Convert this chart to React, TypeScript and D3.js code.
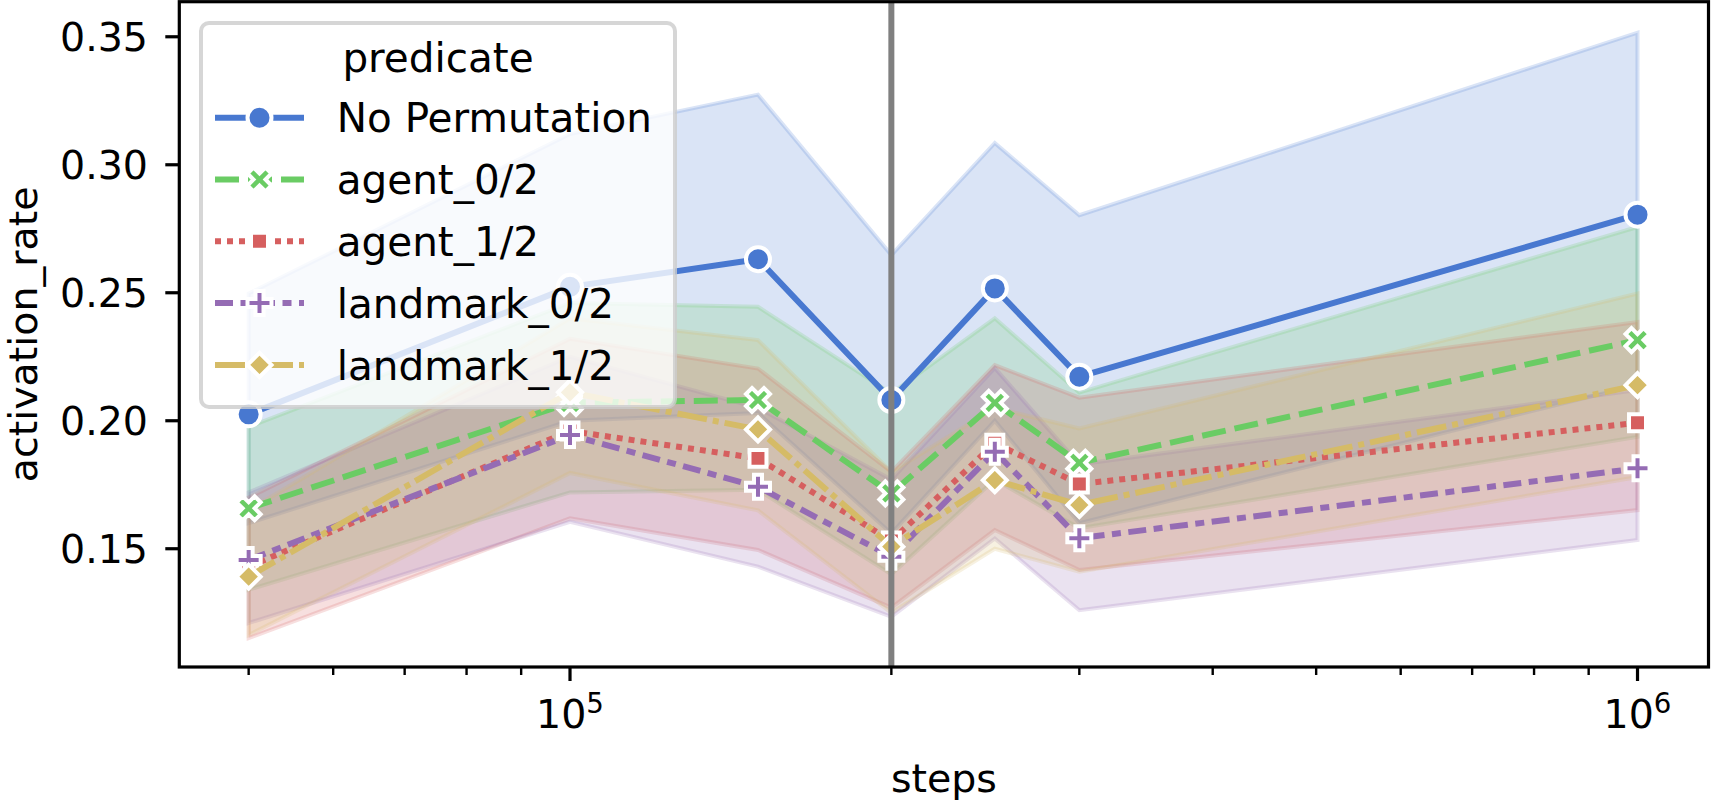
import * as d3 from 'd3';
import React from 'react';

// training steps sampled for every predicate
const steps = [50000, 100000, 150000, 200000, 250000, 300000, 1000000];

const predicates = ['No Permutation', 'agent_0/2', 'agent_1/2', 'landmark_0/2', 'landmark_1/2'];

// mean activation rate and confidence band per predicate
const noPermMean = [0.2025, 0.2523, 0.2631, 0.2081, 0.2517, 0.2172, 0.2805];
const noPermLow = [0.160, 0.200, 0.203, 0.156, 0.200, 0.160, 0.214];
const noPermHigh = [0.2497, 0.312, 0.3274, 0.2647, 0.3085, 0.2803, 0.3516];

const agent0Mean = [0.1658, 0.207, 0.2081, 0.1716, 0.207, 0.1836, 0.2315];
const agent0Low = [0.134, 0.172, 0.173, 0.140, 0.177, 0.158, 0.1937];
const agent0High = [0.1976, 0.246, 0.2445, 0.2107, 0.240, 0.211, 0.2757];

const agent1Mean = [0.143, 0.196, 0.1853, 0.153, 0.1912, 0.1753, 0.1992];
const agent1Low = [0.1151, 0.1619, 0.1495, 0.127, 0.1573, 0.1417, 0.1651];
const agent1High = [0.170, 0.232, 0.2204, 0.180, 0.2217, 0.209, 0.2386];

const landmark0Mean = [0.1456, 0.1944, 0.1742, 0.1469, 0.1879, 0.1541, 0.1814];
const landmark0Low = [0.121, 0.1605, 0.143, 0.1234, 0.154, 0.126, 0.1534];
const landmark0High = [0.172, 0.225, 0.205, 0.177, 0.2206, 0.183, 0.212];

const landmark1Mean = [0.1391, 0.2111, 0.1966, 0.1508, 0.1768, 0.1671, 0.2139];
const landmark1Low = [0.1163, 0.1796, 0.165, 0.125, 0.150, 0.141, 0.178];
const landmark1High = [0.165, 0.240, 0.2315, 0.180, 0.205, 0.197, 0.2497];

const yTicks = [0.15, 0.2, 0.25, 0.3, 0.35];
const markerStep = 200000;

const colors = ['#4878d0', '#6acc64', '#d65f5f', '#956cb4', '#d5bb67'];
const dashes = ['', '24 9', '6 6', '18 7.5 9 7.5', '30 6 6 6'];
const markers = ['circle', 'x', 'square', 'plus', 'diamond'];

const W = 1712, H = 801;
const left = 179.3, right = 1708.5, top = 1.7, bottom = 667;
const font = "'DejaVu Sans', sans-serif";
const fs = 39.5;
const legendFs = 40.5;

const x = d3.scaleLog().domain([10 ** 4.634, 10 ** 6.0665]).range([left, right]);
const y = d3.scaleLinear().domain([0.1038, 0.3637]).range([bottom, top]);

const series = [
  { mean: noPermMean, low: noPermLow, high: noPermHigh },
  { mean: agent0Mean, low: agent0Low, high: agent0High },
  { mean: agent1Mean, low: agent1Low, high: agent1High },
  { mean: landmark0Mean, low: landmark0Low, high: landmark0High },
  { mean: landmark1Mean, low: landmark1Low, high: landmark1High },
].map((s, i) => ({ ...s, name: predicates[i], color: colors[i], dash: dashes[i], marker: markers[i] }));

const poly = (pts: number[][], k: number) =>
  'M' + pts.map(p => `${p[0] * k},${p[1] * k}`).join('L') + 'Z';

function Marker({ kind, cx, cy, color }: { kind: string; cx: number; cy: number; color: string }) {
  const s = 24, h = s / 2;
  const common = { fill: color, stroke: '#fff', strokeWidth: 4, strokeLinejoin: 'miter' as const };
  if (kind === 'circle') return <circle cx={cx} cy={cy} r={h} {...common} />;
  let d = '';
  if (kind === 'x') {
    d = poly([[-1, -2], [0, -1], [1, -2], [2, -1], [1, 0], [2, 1], [1, 2], [0, 1], [-1, 2], [-2, 1], [-1, 0], [-2, -1]], s / 4);
  } else if (kind === 'plus') {
    d = poly([[-1, -3], [1, -3], [1, -1], [3, -1], [3, 1], [1, 1], [1, 3], [-1, 3], [-1, 1], [-3, 1], [-3, -1], [-1, -1]], s / 6);
  } else if (kind === 'square') {
    const a = s / Math.SQRT2 / 2;
    d = poly([[-a, -a], [a, -a], [a, a], [-a, a]], 1);
  } else {
    d = poly([[0, -h], [h, 0], [0, h], [-h, 0]], 1);
  }
  return <path d={d} transform={`translate(${cx},${cy})`} {...common} />;
}

export default function App() {
  const area = d3.area<number>()
    .x((_, i) => x(steps[i]))
    .y0(d => y(d));
  const line = d3.line<number>()
    .x((_, i) => x(steps[i]))
    .y(d => y(d));

  const xt = x.ticks();
  const isMajor = (t: number) => Math.abs(Math.log10(t) - Math.round(Math.log10(t))) < 1e-9;

  const lg = { x: 201, y: 23, w: 474, h: 384 };
  const rowY = (i: number) => 117.7 + i * 61.8;

  return (
    <svg width={W} height={H} style={{ position: 'absolute', left: 0, top: 0, background: '#fff' }}
      fontFamily={font}>
      <rect width={W} height={H} fill="#fff" />
      {/* confidence bands */}
      {series.map(s => (
        <path key={'band' + s.name}
          d={area.y1((_, i) => y(s.high[i]))(s.low) || ''}
          fill={s.color} fillOpacity={0.2}
          stroke={s.color} strokeOpacity={0.2} strokeWidth={4} />
      ))}
      {/* mean lines with markers */}
      {series.map(s => (
        <g key={'line' + s.name}>
          <path d={line(s.mean) || ''} fill="none" stroke={s.color} strokeWidth={6}
            strokeDasharray={s.dash || undefined} strokeLinejoin="round" />
          {s.mean.map((v, i) => (
            <Marker key={i} kind={s.marker} cx={x(steps[i])} cy={y(v)} color={s.color} />
          ))}
        </g>
      ))}
      <line x1={x(markerStep)} x2={x(markerStep)} y1={top} y2={bottom} stroke="#808080" strokeWidth={6} />

      {/* axes */}
      <rect x={left} y={top} width={right - left} height={bottom - top} fill="none" stroke="#000" strokeWidth={3.2} />
      {yTicks.map(t => (
        <g key={'y' + t}>
          <line x1={left - 14} x2={left} y1={y(t)} y2={y(t)} stroke="#000" strokeWidth={3.2} />
          <text x={148} y={y(t) + 14.3} textAnchor="end" fontSize={fs}>{t.toFixed(2)}</text>
        </g>
      ))}
      {xt.map(t => {
        const major = isMajor(t);
        return (
          <g key={'x' + t}>
            <line x1={x(t)} x2={x(t)} y1={bottom} y2={bottom + (major ? 14 : 8)} stroke="#000"
              strokeWidth={major ? 3.2 : 2.4} />
            {major && (
              <text x={x(t)} y={728} textAnchor="middle" fontSize={fs}>
                10<tspan dy={-15} fontSize={fs * 0.7}>{Math.round(Math.log10(t))}</tspan>
              </text>
            )}
          </g>
        );
      })}
      <text x={(left + right) / 2} y={791.5} textAnchor="middle" fontSize={fs}>steps</text>
      <text transform={`translate(36.5,${(top + bottom) / 2}) rotate(-90)`} textAnchor="middle" fontSize={fs}>
        activation_rate
      </text>

      {/* legend */}
      <g>
        <rect x={lg.x} y={lg.y} width={lg.w} height={lg.h} rx={8} ry={8}
          fill="#fff" fillOpacity={0.8} stroke="#cccccc" strokeOpacity={0.8} strokeWidth={4} />
        <text x={lg.x + lg.w / 2} y={71.7} textAnchor="middle" fontSize={legendFs}>predicate</text>
        {series.map((s, i) => (
          <g key={'lg' + s.name}>
            <line x1={215} x2={304} y1={rowY(i)} y2={rowY(i)} stroke={s.color} strokeWidth={6}
              strokeDasharray={s.dash || undefined} />
            <Marker kind={s.marker} cx={259.5} cy={rowY(i)} color={s.color} />
            <text x={336.7} y={rowY(i) + 14.6} fontSize={legendFs}>{s.name}</text>
          </g>
        ))}
      </g>
    </svg>
  );
}
